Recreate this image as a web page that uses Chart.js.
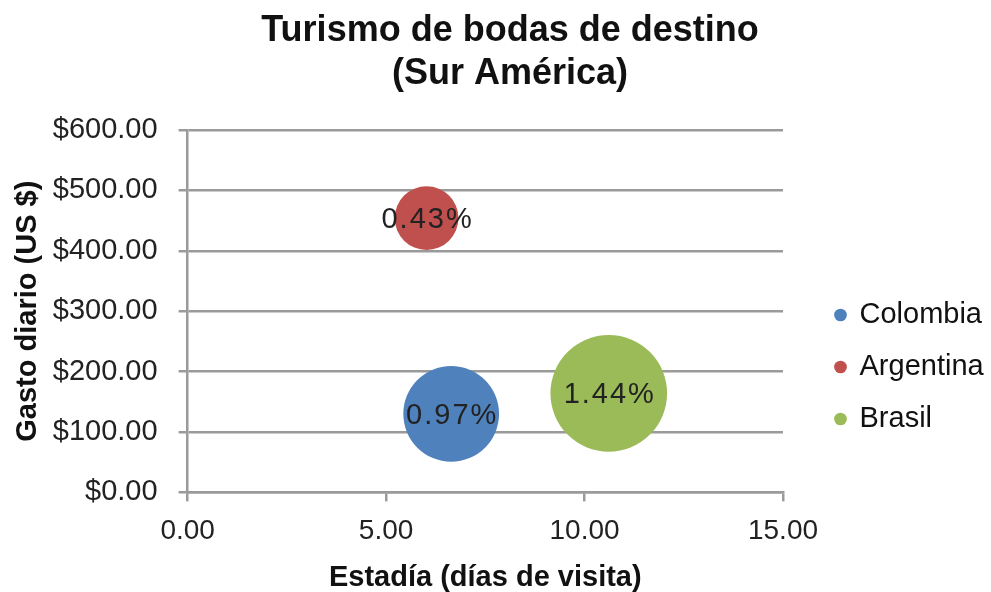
<!DOCTYPE html>
<html>
<head>
<meta charset="utf-8">
<script src="https://cdn.jsdelivr.net/npm/chart.js@4/dist/chart.umd.min.js"></script>
<style>
  html, body { margin: 0; padding: 0; background: #fff; }
  #wrap { width: 991px; height: 592px; }
</style>
</head>
<body>
<div id="wrap"><canvas id="bubbleChart" width="991" height="592"></canvas></div>
<script>
// values
const countries = ['Colombia', 'Argentina', 'Brasil'];
const stayDays = [6.64, 6.02, 10.61];        // Estadía (días de visita)
const dailySpend = [130, 454, 164];          // Gasto diario (US $)
const sharePct = [0.97, 0.43, 1.44];         // bubble size, % shown inside
const xTicks = [0, 5, 10, 15];
const yTicks = [0, 100, 200, 300, 400, 500, 600];

const COLORS = ['#4F81BD', '#C0504D', '#9BBB59'];
const FONT = '"Liberation Sans", Arial, Helvetica, sans-serif';
const PX_PER_SQRT_PCT = 48.6;   // bubble area proportional to the share

const datasets = countries.map((name, i) => ({
    label: name,
    data: [{
        x: stayDays[i],
        y: dailySpend[i],
        r: PX_PER_SQRT_PCT * Math.sqrt(sharePct[i]),
        pct: sharePct[i]
    }],
    backgroundColor: COLORS[i],
    borderColor: COLORS[i],
    borderWidth: 0,
    hoverBorderWidth: 0
}));

const bubbleLabels = {
    id: 'bubbleLabels',
    afterDatasetsDraw(chart) {
        const ctx = chart.ctx;
        chart.data.datasets.forEach((ds, i) => {
            chart.getDatasetMeta(i).data.forEach((pt, j) => {
                ctx.save();
                ctx.font = '29px ' + FONT;
                ctx.letterSpacing = '2px';
                ctx.fillStyle = '#222';
                ctx.textAlign = 'center';
                ctx.textBaseline = 'middle';
                ctx.fillText(ds.data[j].pct.toFixed(2) + '%', pt.x + 1, pt.y + 2);
                ctx.restore();
            });
        });
    }
};

// legend sits a bit away from the plot and lower, like the Excel original
const legendOffset = {
    id: 'legendOffset',
    afterLayout(chart) {
        const lg = chart.legend;
        const dx = 30, dy = 71;
        lg.left += dx; lg.right += dx;
        lg.top += dy; lg.bottom += dy;
    }
};

new Chart(document.getElementById('bubbleChart'), {
    type: 'bubble',
    data: { datasets: datasets },
    plugins: [bubbleLabels, legendOffset],
    options: {
        responsive: false,
        animation: false,
        layout: { padding: { left: 35, right: 6, top: 0, bottom: 0 } },
        plugins: {
            title: {
                display: true,
                text: ['Turismo de bodas de destino', '(Sur América)'],
                color: '#111',
                font: { family: FONT, size: 36, weight: 'bold', lineHeight: 1.18 },
                padding: { top: 10, bottom: 35 }
            },
            legend: {
                position: 'right',
                labels: {
                    usePointStyle: true,
                    pointStyle: 'circle',
                    boxWidth: 9,
                    boxHeight: 9,
                    padding: 23,
                    color: '#111',
                    font: { family: FONT, size: 29 }
                }
            },
            tooltip: { enabled: false }
        },
        scales: {
            x: {
                type: 'linear',
                min: xTicks[0],
                max: xTicks[xTicks.length - 1],
                afterBuildTicks: axis => { axis.ticks = xTicks.map(v => ({ value: v })); },
                afterFit: axis => { axis.paddingRight = 208; },
                ticks: {
                    callback: v => v.toFixed(2),
                    color: '#222',
                    padding: 13,
                    maxRotation: 0,
                    font: { family: FONT, size: 28 }
                },
                grid: {
                    drawOnChartArea: false,
                    drawTicks: true,
                    tickLength: 9,
                    color: '#9a9a9a',
                    lineWidth: 2.5
                },
                border: { color: '#9a9a9a', width: 2.5 },
                title: {
                    display: true,
                    text: 'Estadía (días de visita)',
                    color: '#111',
                    font: { family: FONT, size: 29, weight: 'bold', lineHeight: 1 },
                    padding: { top: 2, bottom: 0 }
                }
            },
            y: {
                type: 'linear',
                min: yTicks[0],
                max: yTicks[yTicks.length - 1],
                afterBuildTicks: axis => { axis.ticks = yTicks.map(v => ({ value: v })); },
                ticks: {
                    callback: v => '$' + v.toFixed(2),
                    color: '#222',
                    padding: 21,
                    font: { family: FONT, size: 29 }
                },
                grid: {
                    drawTicks: true,
                    tickLength: 9,
                    color: '#9a9a9a',
                    lineWidth: 2.5
                },
                border: { color: '#9a9a9a', width: 2.5 },
                title: {
                    display: true,
                    text: 'Gasto diario (US $)',
                    color: '#111',
                    font: { family: FONT, size: 29, weight: 'bold', lineHeight: 1.2 },
                    padding: { top: -24, bottom: -14 }
                }
            }
        }
    }
});
</script>
</body>
</html>
